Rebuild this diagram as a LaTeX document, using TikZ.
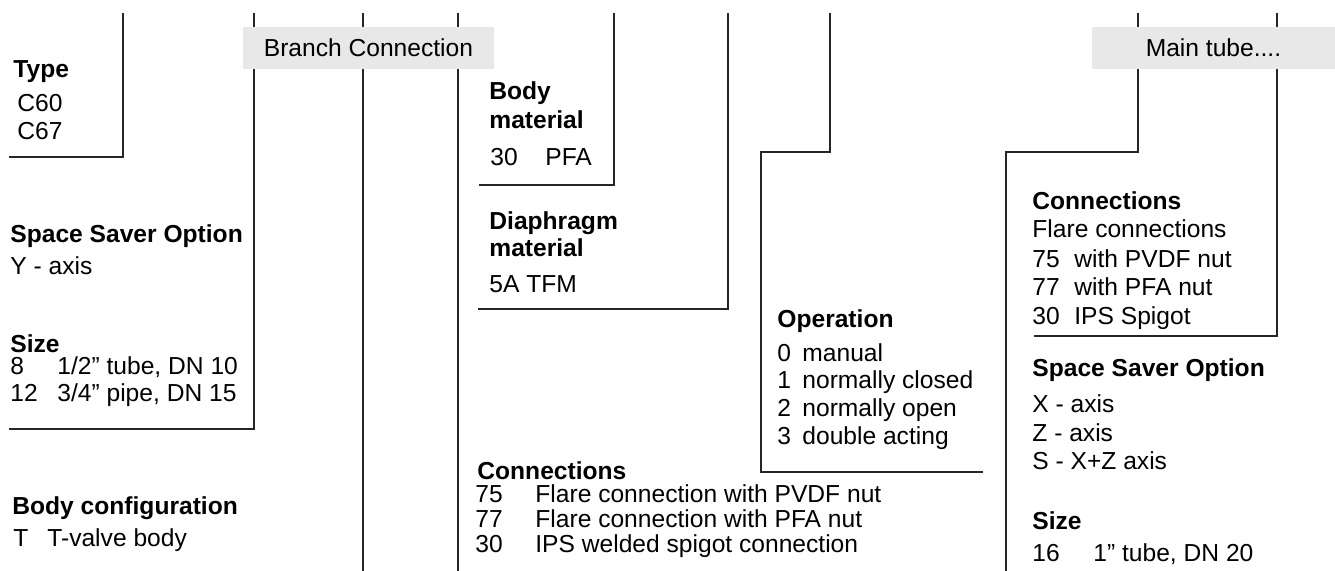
\documentclass[tikz,border=0pt]{standalone}
\usepackage{fontspec}
\setmainfont{Liberation Sans}

\begin{document}
\begin{tikzpicture}[
    x=0.5pt, y=-0.5pt,
    every node/.style={font=\fontsize{12.3}{14}\selectfont, inner sep=0pt, anchor=base west},
    head/.style={font=\fontsize{12.3}{14}\selectfont\bfseries},
    tag/.style={fill=black!9, anchor=center, minimum height=21pt},
    lead/.style={draw=black!85, line width=0.6pt}
  ]
  \useasboundingbox (0,0) rectangle (1335,571);

  \draw[lead] (123,13) |- (9,157);
  \draw[lead] (254,13) |- (9,429);
  \draw[lead] (363,13) -- (363,571);
  \draw[lead] (458,13) -- (458,571);
  \draw[lead] (614,13) |- (479,185);
  \draw[lead] (728,13) |- (478,309);
  \draw[lead] (830,13) |- (761,152) |- (983,472);
  \draw[lead] (1138,13) |- (1006,152) -- (1006,571);
  \draw[lead] (1277,13) |- (1034,336);

  \node[tag, minimum width=125.5pt] (branch) at (368.5,48) {Branch Connection};
  \node[tag, minimum width=121.5pt] (maintube) at (1213.5,48) {Main tube....};

  % left column
  \node[head] (type) at (13,78) {Type};
  \node (c60) at (17,112) {C60};
  \node (c67) at (17,140) {C67};

  \node[head] (ssy) at (10,243) {Space Saver Option};
  \node (yaxis) at (10,275) {Y - axis};

  \node[head] (size) at (10,353) {Size};
  \node (s8) at (10,375) {8};
  \node (s8t) at (57,375) {1/2” tube, DN 10};
  \node (s12) at (10,402) {12};
  \node (s12t) at (57,402) {3/4” pipe, DN 15};

  \node[head] (bodycfg) at (12,515) {Body configuration};
  \node (bt) at (13,547) {T};
  \node (btt) at (47,547) {T-valve body};

  % middle column
  \node[head] (bodymat) at (489,100) {Body};
  \node[head] (bodymat2) at (489,129) {material};
  \node (bm30) at (490,166) {30};
  \node (bmpfa) at (545,166) {PFA};

  \node[head] (diaph) at (489,230) {Diaphragm};
  \node[head] (diaph2) at (489,257) {material};
  \node (dtfm) at (489,293) {5A TFM};

  \node[head] (oper) at (777,328) {Operation};
  \foreach \k/\y/\t in {0/362/manual, 1/389/normally closed, 2/417/normally open, 3/445/double acting} {
    \node (op\k) at (777,\y) {\k};
    \node (opt\k) at (802,\y) {\t};
  }

  \node[head] (conn) at (477,480) {Connections};
  \foreach \k/\y/\t in {75/503/Flare connection with PVDF nut, 77/528/Flare connection with PFA nut, 30/553/IPS welded spigot connection} {
    \node (cn\k) at (475,\y) {\k};
    \node (cnt\k) at (535,\y) {\t};
  }

  % right column
  \node[head] (mconn) at (1032,210) {Connections};
  \node (mflare) at (1032,238) {Flare connections};
  \foreach \k/\y/\t in {75/268/with PVDF nut, 77/296/with PFA nut, 30/325/IPS Spigot} {
    \node (mc\k) at (1032,\y) {\k};
    \node (mct\k) at (1074,\y) {\t};
  }

  \node[head] (ssx) at (1032,377) {Space Saver Option};
  \node (xaxis) at (1032,413) {X - axis};
  \node (zaxis) at (1032,442) {Z - axis};
  \node (xzaxis) at (1032,470) {S - X+Z axis};

  \node[head] (msize) at (1032,530) {Size};
  \node (m16) at (1032,562) {16};
  \node (m16t) at (1093,562) {1” tube, DN 20};
\end{tikzpicture}
\end{document}
